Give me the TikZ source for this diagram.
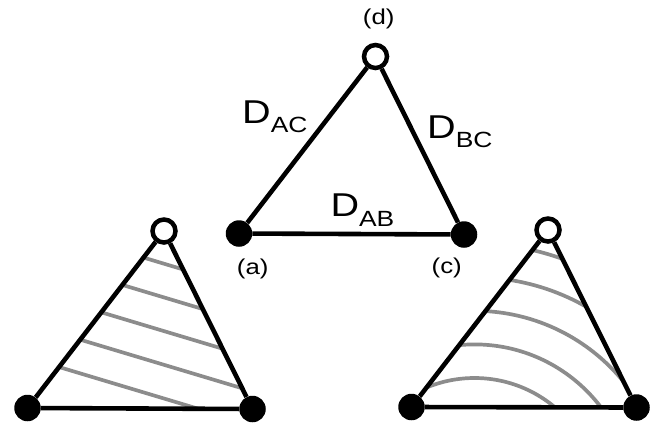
\documentclass[tikz,border=0pt]{standalone}
\usepackage{fontspec}
\setmainfont{Liberation Sans}[FakeStretch=1.2]
\usetikzlibrary{backgrounds}

\newcommand{\distD}[1]{D\raisebox{-9.5pt}{\fontsize{22}{22}\selectfont #1}}

\begin{document}
\begin{tikzpicture}[
  x=1pt, y=-1pt,
  vtx/.style={circle, fill=black, inner sep=0pt, minimum size=26.5pt},
  ovtx/.style={circle, draw=black, line width=4.5pt, fill=white,
    inner sep=0pt, minimum size=23pt},
  side/.style={line width=4.6pt, draw=black},
  contour/.style={line width=3.7pt, draw=black!45},
  distlab/.style={anchor=base west, inner sep=0pt,
    font=\fontsize{33}{33}\selectfont},
  vlab/.style={inner sep=0pt, font=\fontsize{21.5}{21.5}\selectfont}
]
\useasboundingbox (0,0) rectangle (652,424);

% top triangle
\node[ovtx] (d) at (375.5,56.5) {};
\node[vtx] (a) at (239,233.5) {};
\node[vtx] (c) at (464,234.5) {};

\node[vlab] (ld) at (378.7,19) {(d)};
\node[vlab] (la) at (252.7,269) {(a)};
\node[vlab] (lc) at (446.7,268.3) {(c)};

\node[distlab] (dac) at (242,123.3) {\distD{AC}};
\node[distlab] (dbc) at (427,138.3) {\distD{BC}};
\node[distlab] (dab) at (330.3,216.7) {\distD{AB}};

\draw[side] (a) -- (d) -- (c) -- (a);

% lower left: straight contours
\node[ovtx] (l1) at (164,231) {};
\node[vtx] (l2) at (27.5,408) {};
\node[vtx] (l3) at (252.5,409) {};
\draw[side] (l2) -- (l1) -- (l3) -- (l2);

% lower right: curved contours
\node[ovtx] (r1) at (548,230) {};
\node[vtx] (r2) at (411.5,407) {};
\node[vtx] (r3) at (636.5,407.5) {};
\draw[side] (r2) -- (r1) -- (r3) -- (r2);

\begin{pgfonlayer}{background}
  \begin{scope}
    \clip (l1.center) -- (l2.center) -- (l3.center) -- cycle;
    \foreach \k in {0,...,4}
      \draw[contour] (0,{214.5+33.7*\k}) -- (300,{304.5+33.7*\k});
  \end{scope}
  \begin{scope}
    \clip (r1.center) -- (r2.center) -- (r3.center) -- cycle;
    \foreach \k in {0,...,4}
      \draw[contour] (474.5,503) circle[radius={125+33.6*\k}];
  \end{scope}
\end{pgfonlayer}
\end{tikzpicture}
\end{document}
